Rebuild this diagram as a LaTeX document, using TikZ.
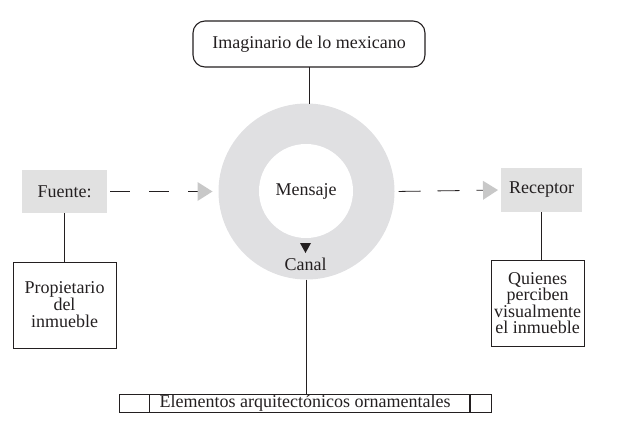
\documentclass[tikz,border=0pt]{standalone}
\usepackage{fontspec}
\setmainfont{Liberation Serif}
\usetikzlibrary{arrows.meta}
\definecolor{ringgray}{HTML}{E0E0E2}
\definecolor{boxgray}{HTML}{E1E1E1}
\definecolor{tipgray}{HTML}{C8C8C8}
\definecolor{ink}{HTML}{231F20}
\begin{document}
\begin{tikzpicture}[x=1pt,y=-1pt,
  font=\fontsize{18}{17}\selectfont, text=ink, draw=ink,
  every node/.style={inner sep=0pt, outer sep=0pt},
  grayfill/.style={rectangle, fill=boxgray},
  framebox/.style={rectangle, draw=ink, line width=0.8pt, align=center},
  link/.style={draw=ink, line width=0.8pt},
  flow/.style={draw=ink, line width=0.8pt,
    -{Triangle[length=15pt,width=19pt,color=tipgray,line width=0pt]}}]
\useasboundingbox (0,0) rectangle (639,428);
% ring
\node[circle, fill=ringgray, minimum size=176pt] (ring) at (306.5,191.5) {};
\node[circle, fill=white, minimum size=94pt] (msg) at (306,191) {Mensaje};
% top
\node[rectangle, draw=ink, line width=1.1pt, rounded corners=12pt,
  minimum width=232pt, minimum height=46pt] (imag) at (309,44) {Imaginario de lo mexicano};
% left
\node[grayfill, minimum width=85pt, minimum height=43pt] (fuente) at (64.5,191.5) {Fuente:};
\node[framebox, minimum width=103pt, minimum height=86pt] (prop) at (64.5,305)
  {Propietario\\del\\inmueble};
% right
\node[grayfill, minimum width=81pt, minimum height=44pt] (rec) at (541.5,190) {Receptor};
\node[framebox, minimum width=93pt, minimum height=86pt,
  font=\fontsize{18}{16.5}\selectfont] (quien) at (537.5,303)
  {Quienes\\perciben\\visualmente\\el inmueble};
% canal
\node (canal) at (305.5,264) {Canal};
\fill[ink] ([shift={(-5.5,-21)}]canal.center) -- ([shift={(5.5,-21)}]canal.center)
  -- ([shift={(0,-11)}]canal.center) -- cycle;
% bottom
\node[rectangle, draw=ink, line width=0.8pt, minimum width=372pt,
  text height=12pt, text depth=4pt, inner ysep=1pt] (elem) at (305,403)
  {Elementos arquitectónicos ornamentales};
\draw[link] ([xshift=30pt]elem.north west) -- ([xshift=30pt]elem.south west);
\draw[line width=1.3pt, draw=ink] ([xshift=-21pt]elem.north east) -- ([xshift=-21pt]elem.south east);
% connectors
\draw[link] (imag.south) -- (imag.south |- ring.north);
\draw[link] (fuente.south) -- (prop.north);
\draw[link] (rec.south) -- (rec.south |- quien.north);
\draw[link] (ring.south) -- (ring.south |- elem.north);
\draw[flow, dash pattern=on 20pt off 19pt, shorten <=3pt, shorten >=6pt] (fuente.east) -- (ring.west);
\draw[flow, dash pattern=on 22pt off 17pt, shorten <=4pt, shorten >=3pt] (ring.east) -- (rec.west);
\end{tikzpicture}
\end{document}
